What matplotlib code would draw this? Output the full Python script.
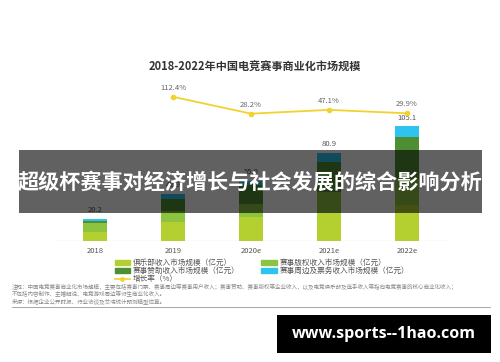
import matplotlib
matplotlib.use("Agg")
import matplotlib.pyplot as plt
from matplotlib.patches import Rectangle, Patch
from matplotlib.lines import Line2D
import numpy as np

plt.rcParams['font.family'] = ['Noto Sans CJK SC', 'DejaVu Sans']

years = ["2018", "2019", "2020e", "2021e", "2022e"]
club = [8.3, 17.4, 22.0, 25.9, 33.0]
rights = [7.8, 10.5, 12.0, 19.0, 24.0]
sponsor = [2.4, 11.0, 17.0, 28.0, 38.0]
periph = [1.7, 4.0, 4.0, 8.0, 10.1]
totals = ["20.2", "42.9", "55.0", "80.9", "105.1"]
growth_years = ["2019", "2020e", "2021e", "2022e"]
growth = [112.4, 28.2, 47.1, 29.9]

series_names = ["俱乐部收入市场规模（亿元）", "赛事版权收入市场规模（亿元）",
                "赛事赞助收入市场规模（亿元）", "赛事周边及票务收入市场规模（亿元）"]
growth_name = "增长率（%）"
title = "2018-2022年中国电竞赛事商业化市场规模"
banner = "超级杯赛事对经济增长与社会发展的综合影响分析"
notes = ["注释：中国电竞赛事商业化市场规模，主要包括赛事门票、赛事周边等赛事用户收入；赛事赞助、赛事版权等企业收入，以及电竞俱乐部及选手收入等指向电竞赛事的核心商业化收入；",
         "不包括内容制作、主播解说、电竞游戏周边等衍生商业化收入。",
         "来源：根据企业公开财报、行业访谈及艾瑞统计预测模型估算。"]
watermark = "www.sports--1hao.com"

colors = ["#b4cf30", "#8cc43f", "#4f8f34", "#2ec4ef"]
W, H = 500, 362
fig = plt.figure(figsize=(W/100, H/100), dpi=100)
fig.patch.set_facecolor("white")

def fx(px): return px / W
def fy(py): return 1 - py / H

# main axes: bottom at pixel 241, top at 60
ax = fig.add_axes([fx(0), fy(241), 1, (241-60)/H])
x = np.arange(len(years))
bottom = np.zeros(len(years))
for vals, c in zip([club, rights, sponsor, periph], colors):
    ax.bar(x, vals, width=0.31, bottom=bottom, color=c, zorder=2)
    bottom += np.array(vals)
for xi, b, t in zip(x, bottom, totals):
    ax.text(xi, b + 4.5, t, ha="center", va="bottom", fontsize=5.5, color="#555555")
ax.set_xlim(-95/78, (500-95)/78)
ax.set_ylim(0, 181/1.09)
for s in ["top", "right", "left", "bottom"]:
    ax.spines[s].set_visible(False)
ax.axhline(0, xmin=55/500, xmax=448/500, color="#b0b0b0", lw=0.8, zorder=3)
ax.set_yticks([])
ax.set_xticks(x)
ax.set_xticklabels(years, fontsize=5.5, color="#555555")
ax.tick_params(axis="x", length=0, pad=4)
ax.patch.set_alpha(0)

ax2 = ax.twinx()
gx = [years.index(g) for g in growth_years]
ax2.plot(gx, growth, color="#f2d22e", lw=1.3, marker="o", markersize=3, zorder=4)
for xi, g in zip(gx, growth):
    ax2.text(xi, g + 25, f"{g:.1f}%", ha="center", va="bottom", fontsize=5.5, color="#666666")
ax2.set_ylim(-(241-119.3)/0.2, (119.3-60)/0.2)
ax2.set_yticks([])
for s in ax2.spines.values():
    s.set_visible(False)

fig.text(fx(255), fy(67), title, ha="center", va="center", fontsize=8, fontweight="bold", color="#333333")

handles = [Patch(color=colors[0]), Patch(color=colors[2]),
           Line2D([0], [0], color="#f2d22e", lw=1.2, marker="o", markersize=2.5),
           Patch(color=colors[1]), Patch(color=colors[3])]
labels = [series_names[0], series_names[2], growth_name, series_names[1], series_names[3]]
fig.legend(handles, labels, ncol=2, loc="upper left", bbox_to_anchor=(fx(111), fy(255)),
           frameon=False, fontsize=5.5, handlelength=2.0, handleheight=0.6,
           handletextpad=0.4, columnspacing=2.8, labelspacing=0.02, borderpad=0,
           labelcolor="#555555")

for i, n in enumerate(notes):
    fig.text(fx(12), fy(287 + i*7.5), n, ha="left", va="center", fontsize=4, color="#8a8a8a")
fig.add_artist(Line2D([fx(12), fx(490)], [fy(307), fy(307)], color="#999999", lw=0.6))

fig.add_artist(Rectangle((fx(19), fy(213)), fx(482-19), (213-150)/H, transform=fig.transFigure,
                         facecolor="black", alpha=0.62, edgecolor="none", zorder=10))
fig.text(fx(250), fy(182), banner, ha="center", va="center", fontsize=15.2, fontweight="bold",
         color="white", zorder=11)

fig.add_artist(Rectangle((fx(277), fy(353)), fx(491-277), (353-315)/H, transform=fig.transFigure,
                         facecolor="black", edgecolor="none", zorder=10))
fig.text(fx(384), fy(334), watermark, ha="center", va="center", fontsize=11.5, fontweight="bold",
         color="white", family=["Open Sans", "DejaVu Sans"], zorder=11)

fig.savefig("out.png", dpi=100)
